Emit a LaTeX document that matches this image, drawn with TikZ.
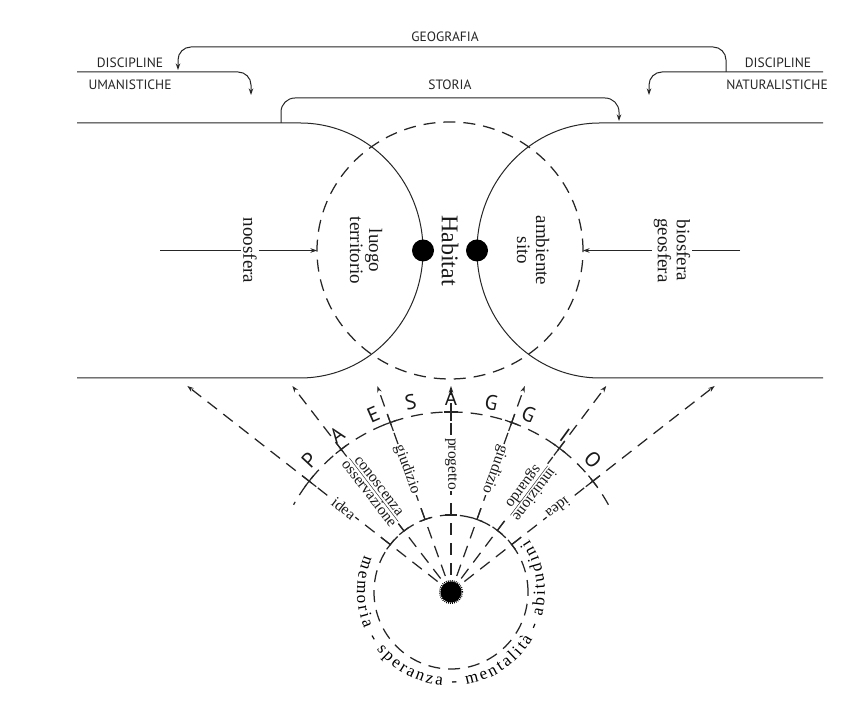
\documentclass[tikz,border=0pt]{standalone}
\usepackage{fontspec}
\setmainfont{Liberation Serif}
\newfontfamily\labfont{PT Sans}
\usetikzlibrary{arrows.meta,decorations.text,calc}
\begin{document}
\begin{tikzpicture}[x=1pt,y=1pt,
  ln/.style={line width=1pt, draw=black!85},
  dsh/.style={line width=1.25pt, draw=black!85, dash pattern=on 12pt off 8pt},
  tip/.style={-{Stealth[length=6.5pt,width=4.5pt]}},
  lab/.style={font=\labfont\fontsize{13.5}{14}\selectfont, inner sep=0pt, text=black!85},
  vtxt/.style={font=\fontsize{19}{19}\selectfont, rotate=-90, align=center, inner sep=2pt, text=black!90},
  rtxt/.style={font=\fontsize{15.5}{14}\selectfont, inner sep=1.5pt, fill=white, align=center, text=black!90},
  letter/.style={font=\labfont\fontsize{21}{21}\selectfont, inner sep=0pt, text=black!90},
]
\useasboundingbox (0,0) rectangle (851,703);
\fill[white] (0,0) rectangle (851,703);

% ---------- top labels ----------
\node[lab] (geo) at (445,666) {GEOGRAFIA};
\node[lab] (dl) at (130,640) {DISCIPLINE};
\node[lab] (um) at (130,618) {UMANISTICHE};
\node[lab] (dr) at (778,640) {DISCIPLINE};
\node[lab] (nat) at (777,618) {NATURALISTICHE};
\node[lab] (sto) at (450,618) {STORIA};

% ---------- brackets ----------
\coordinate (gL) at (178,633);
\coordinate (gR) at (726,631);
\draw[ln, tip, rounded corners=13pt] (gR) -- (726,656) -- (178,656) -- (gL);
\coordinate (uL0) at (77,631);
\coordinate (uL1) at (251,608);
\draw[ln, tip, rounded corners=13pt] (uL0) -- (251,631) -- (uL1);
\coordinate (uR0) at (823,631);
\coordinate (uR1) at (649,608);
\draw[ln, tip, rounded corners=13pt] (uR0) -- (649,631) -- (uR1);
\coordinate (sL) at (281,580);
\coordinate (sR) at (619,582);
\draw[ln, tip, rounded corners=14pt] (sL) -- (281,605) -- (619,605) -- (sR);

% ---------- central shapes ----------
\draw[ln] (77,580) -- (300,580) arc[start angle=90, end angle=-90, x radius=123, y radius=127.5] -- (77,325);
\draw[ln] (823,580) -- (600,580) arc[start angle=90, end angle=270, x radius=123, y radius=127.5] -- (823,325);
\draw[dsh] (450,452.5) ellipse[x radius=133, y radius=128.5];

\fill[black] (423,452.5) circle (11);
\fill[black] (477,452.5) circle (11);
\node[vtxt, font=\fontsize{24}{24}\selectfont] (hab) at (450,452.5) {Habitat};
\node[vtxt] (lt) at (366,452.5) {luogo\\territorio};
\node[vtxt] (as) at (533,452.5) {ambiente\\sito};

\coordinate (nooL) at (160,452.5);
\coordinate (nooT) at (317,452.5);
\draw[ln, tip] (nooL) -- (nooT);
\node[vtxt, fill=white] (noo) at (250,452.5) {noosfera};
\coordinate (bioR) at (740,452.5);
\coordinate (bioT) at (583,452.5);
\draw[ln, tip] (bioR) -- (bioT);
\node[vtxt, fill=white] (bio) at (672,452.5) {biosfera\\geosfera};

% ---------- bottom fan ----------
\coordinate (O) at (451,111);
\fill[black] (O) circle (10.5);
\draw[black, line width=1.6pt, dash pattern=on 0.8pt off 1.2pt] (O) circle (11.3);
\draw[dsh] (O) circle (77);
\draw[dsh] ($(O)+(29:180)$) arc[start angle=29, end angle=151, radius=180];

\foreach \a [count=\i] in {142,127.6,109.7,90,70.3,53,38} {
  \coordinate (rs\i) at ($(O)+(\a:17)$);
  \coordinate (re\i) at ($(O)+(\a:{206/sin(\a)})$);
  \draw[dsh, tip] (rs\i) -- (re\i);
  \draw[ln, line width=1.2pt] ($(O)+(\a:171)$) -- ($(O)+(\a:189)$);
  \draw[ln, line width=1.2pt] ($(O)+(\a:180)+(\a+90:7)$) -- ($(O)+(\a:180)+(\a-90:7)$);
  \draw[ln, line width=1.2pt] ($(O)+(\a:77)$) -- ($(O)+(\a:89)$);
  \draw[ln, line width=1.2pt] ($(O)+(\a:77)+(\a+90:6)$) -- ($(O)+(\a:77)+(\a-90:6)$);
}

\node[rtxt, rotate=-38] (t1) at ($(O)+(142:136)$) {idea};
\node[rtxt, rotate=-52.4] (t2) at ($(O)+(127.6:128)$) {\begin{tabular}{@{}c@{}}conoscenza\\[-2pt]\hline osservazione\end{tabular}};
\node[rtxt, rotate=-70.3] (t3) at ($(O)+(109.7:130)$) {giudizio};
\node[rtxt, rotate=-90] (t4) at ($(O)+(90:128)$) {progetto};
\node[rtxt, rotate=-109.7] (t5) at ($(O)+(70.3:130)$) {giudizio};
\node[rtxt, rotate=-127] (t6) at ($(O)+(53:128)$) {\begin{tabular}{@{}c@{}}intuizione\\[-2pt]\hline sguardo\end{tabular}};
\node[rtxt, rotate=-142] (t7) at ($(O)+(38:136)$) {idea};

\foreach \a/\l [count=\i] in {137/P,126/A,113.6/E,102/S,90/A,78/G,66.4/G,54/I,43/O} {
  \node[letter, rotate=\a-90] (L\i) at ($(O)+(\a:194)$) {\l};
}

\path[decorate, decoration={text along path,
  text={|\fontsize{17}{17}\selectfont|memoria - speranza - mentalità - abitudini},
  text align=fit to path}]
  ($(O)+(157:94)$) arc[start angle=157, end angle=394, radius=94];
\end{tikzpicture}
\end{document}
